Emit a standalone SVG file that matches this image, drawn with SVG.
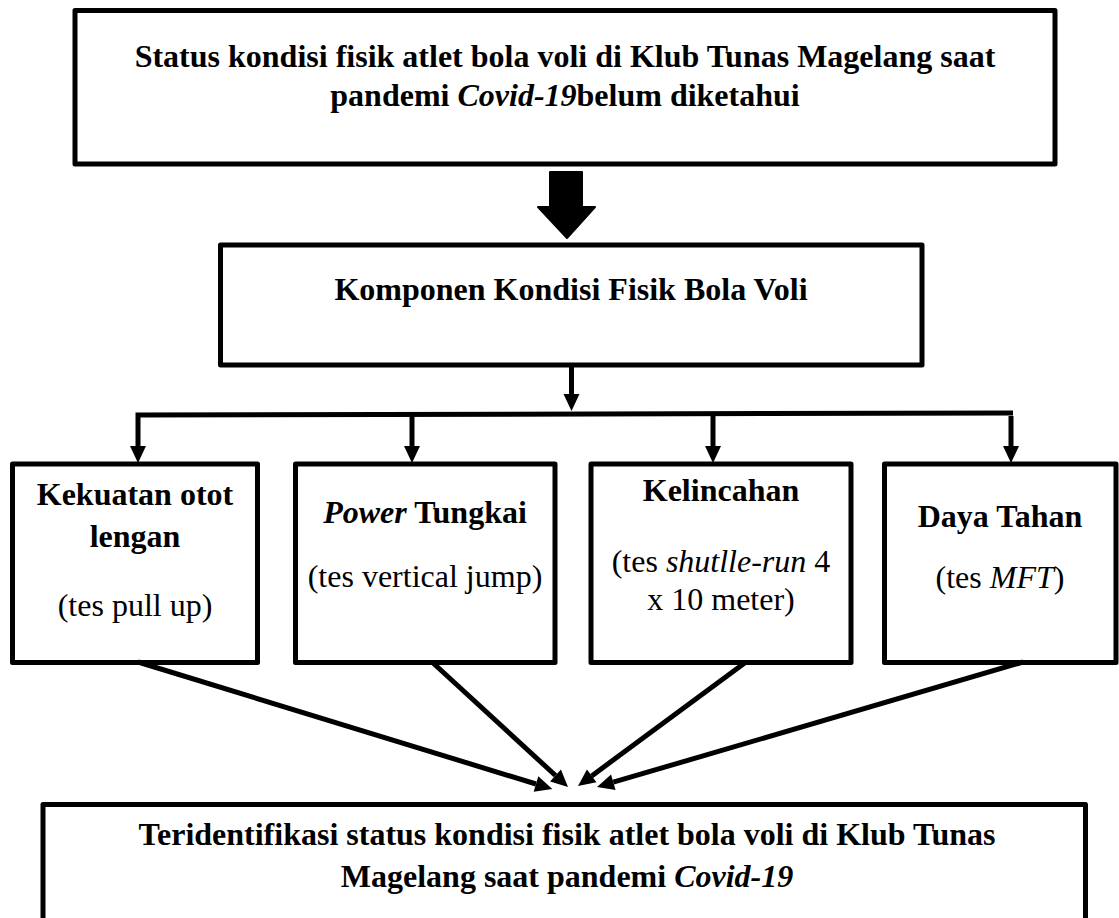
<svg xmlns="http://www.w3.org/2000/svg" width="1119" height="918" viewBox="0 0 1119 918">
<style>
.box{fill:#fff;stroke:#000;stroke-width:5;stroke-linejoin:round}
.ln{fill:none;stroke:#000;stroke-width:5}
.t{font-family:"Liberation Serif","Times New Roman",serif;font-size:32px;fill:#000;text-anchor:middle}
.b{font-weight:bold}
.i{font-style:italic}
</style>
<defs>
<marker id="ah" viewBox="0 -8 17 16" markerWidth="17" markerHeight="16" refX="0" refY="0" orient="auto" markerUnits="userSpaceOnUse" overflow="visible">
<path d="M0,-8 L17,0 L0,8 Z" fill="#000"/>
</marker>
</defs>
<rect width="1119" height="918" fill="#fff"/>

<g id="node-top">
<rect class="box" x="75" y="10.5" width="980" height="153.5"/>
<text class="t b" x="565" y="67">Status kondisi fisik atlet bola voli di Klub Tunas Magelang saat</text>
<text class="t b" x="565" y="106">pandemi <tspan class="i">Covid-19</tspan>belum diketahui</text>
</g>

<g id="node-komponen">
<rect class="box" x="220.5" y="245" width="701.5" height="120"/>
<text class="t b" x="571" y="300">Komponen Kondisi Fisik Bola Voli</text>
</g>

<g id="node-kekuatan">
<rect class="box" x="12.5" y="464" width="245" height="198.5"/>
<text class="t b" x="135" y="505">Kekuatan otot</text>
<text class="t b" x="135" y="547">lengan</text>
<text class="t" x="135" y="616">(tes pull up)</text>
</g>

<g id="node-power">
<rect class="box" x="295.5" y="464" width="259.5" height="198.5"/>
<text class="t b" x="425" y="523"><tspan class="i">Power</tspan> Tungkai</text>
<text class="t" x="425" y="587">(tes vertical jump)</text>
</g>

<g id="node-kelincahan">
<rect class="box" x="591" y="464" width="260" height="198.5"/>
<text class="t b" x="721" y="501">Kelincahan</text>
<text class="t" x="721" y="572">(tes <tspan class="i">shutlle-run</tspan> 4</text>
<text class="t" x="721" y="610">x 10 meter)</text>
</g>

<g id="node-daya">
<rect class="box" x="884.5" y="464" width="231.5" height="198.5"/>
<text class="t b" x="1000" y="527">Daya Tahan</text>
<text class="t" x="1000" y="588">(tes <tspan class="i">MFT</tspan>)</text>
</g>

<g id="node-bottom">
<rect class="box" x="43" y="804.5" width="1042.5" height="140"/>
<text class="t b" x="567" y="845">Teridentifikasi status kondisi fisik atlet bola voli di Klub Tunas</text>
<text class="t b" x="567" y="887">Magelang saat pandemi <tspan class="i">Covid-19</tspan></text>
</g>

<g id="connectors">
<path d="M550,172 H582 V207 H595 L567,238 L538,207 H550 Z" fill="#000" stroke="#000" stroke-width="2" stroke-linejoin="round"/>
<line class="ln" x1="571.5" y1="366" x2="571.5" y2="394" marker-end="url(#ah)"/>
<polyline class="ln" points="138,446 138,415 1013,413"/>
<line class="ln" x1="412" y1="416" x2="412" y2="446" marker-end="url(#ah)"/>
<line class="ln" x1="713" y1="416" x2="713" y2="446" marker-end="url(#ah)"/>
<line class="ln" x1="1011" y1="416" x2="1011" y2="446" marker-end="url(#ah)"/>
<line class="ln" x1="138" y1="446" x2="138" y2="446.1" marker-end="url(#ah)"/>
<line class="ln" x1="138" y1="662" x2="536" y2="784" marker-end="url(#ah)"/>
<line class="ln" x1="432" y1="662" x2="555.5" y2="775.5" marker-end="url(#ah)"/>
<line class="ln" x1="746" y1="662" x2="591.7" y2="775.9" marker-end="url(#ah)"/>
<line class="ln" x1="1023" y1="662" x2="613.3" y2="782.2" marker-end="url(#ah)"/>
</g>
</svg>
